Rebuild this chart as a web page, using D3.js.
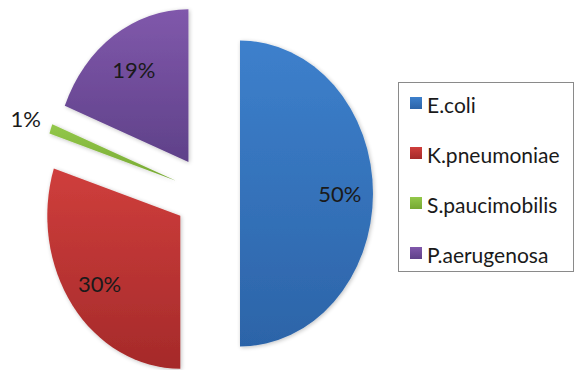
<!DOCTYPE html>
<html>
<head>
<meta charset="utf-8">
<script src="https://cdn.jsdelivr.net/npm/d3@7"></script>
<style>
  html, body { margin: 0; padding: 0; background: #fff; }
  svg { display: block; }
  text { font-family: "Lato", "Open Sans", sans-serif; fill: #1a1a1a; }
</style>
</head>
<body>
<svg id="chart" width="576" height="370"></svg>
<script>
// Share of isolates by organism
const organisms = ["E.coli", "K.pneumoniae", "S.paucimobilis", "P.aerugenosa"];
const shares = [50, 30, 1, 19];
const labels = ["50%", "30%", "1%", "19%"];
const topColors = ["#3d80cc", "#cf3e3c", "#93c84a", "#8058ab"];
const bottomColors = ["#2c64a8", "#a52a2a", "#76a832", "#5f4189"];

const svg = d3.select("#chart");
const cx = 207, cy = 193.5;      // pie centre
const r = 133;                   // horizontal radius
const ky = 1.15;                 // vertical stretch of the pie
const explode = 33;              // distance each slice is pulled out

const pie = d3.pie().sort(null).value(d => d);
const arcs = pie(shares);
const arc = d3.arc().innerRadius(0).outerRadius(r);

const defs = svg.append("defs");
arcs.forEach((a, i) => {
  const g = defs.append("linearGradient")
    .attr("id", "grad" + i).attr("x1", 0).attr("y1", 0).attr("x2", 0).attr("y2", 1);
  g.append("stop").attr("offset", "0%").attr("stop-color", topColors[i]);
  g.append("stop").attr("offset", "100%").attr("stop-color", bottomColors[i]);
});
const blur = defs.append("filter").attr("id", "soft")
  .attr("x", "-10%").attr("y", "-10%").attr("width", "120%").attr("height", "120%");
blur.append("feGaussianBlur").attr("in", "SourceAlpha").attr("stdDeviation", 2).attr("result", "b");
blur.append("feOffset").attr("in", "b").attr("dx", 1).attr("dy", 1).attr("result", "o");
blur.append("feComponentTransfer").attr("in", "o").attr("result", "s")
  .append("feFuncA").attr("type", "linear").attr("slope", 0.25);
const merge = blur.append("feMerge");
merge.append("feMergeNode").attr("in", "s");
merge.append("feMergeNode").attr("in", "SourceGraphic");

const mid = a => (a.startAngle + a.endAngle) / 2;

const slices = svg.append("g")
  .attr("transform", `translate(${cx},${cy}) scale(1,${ky})`);

slices.selectAll("path")
  .data(arcs)
  .join("path")
  .attr("transform", a => {
    const m = mid(a);
    return `translate(${explode * Math.sin(m)},${-explode * Math.cos(m)})`;
  })
  .attr("d", arc)
  .attr("fill", (a, i) => `url(#grad${i})`)
  .attr("filter", "url(#soft)");

// Percentage labels: inside the large slices, outside the thin one
const labelRadius = [0.75, 0.75, 1.2, 0.73];
svg.append("g").selectAll("text")
  .data(arcs)
  .join("text")
  .attr("x", (a, i) => cx + (explode + r * labelRadius[i]) * Math.sin(mid(a)))
  .attr("y", (a, i) => cy - (explode + r * labelRadius[i]) * Math.cos(mid(a)) * ky)
  .attr("text-anchor", "middle")
  .attr("dominant-baseline", "central")
  .attr("font-size", 22)
  .text((a, i) => labels[i]);

// Legend
const legend = svg.append("g");
legend.append("rect")
  .attr("x", 398.5).attr("y", 82.5).attr("width", 175).attr("height", 189)
  .attr("fill", "#fff").attr("stroke", "#8a8a8a").attr("stroke-width", 1);

const rowY = d3.scalePoint().domain(organisms).range([103, 253]);
const items = legend.selectAll("g.item")
  .data(organisms)
  .join("g")
  .attr("class", "item")
  .attr("transform", d => `translate(410,${rowY(d)})`);
items.append("rect")
  .attr("x", 0).attr("y", -6).attr("width", 12).attr("height", 12)
  .attr("fill", (d, i) => `url(#grad${i})`);
items.append("text")
  .attr("x", 17).attr("y", 1)
  .attr("dominant-baseline", "central")
  .attr("font-size", 21)
  .text(d => d);
</script>
</body>
</html>
